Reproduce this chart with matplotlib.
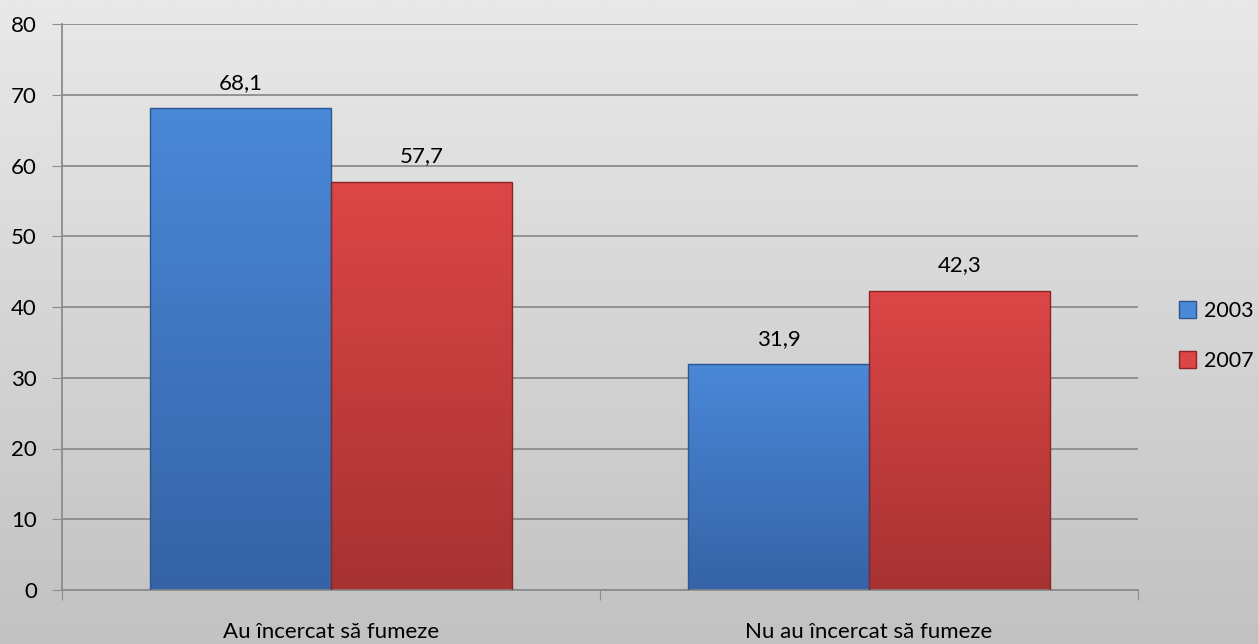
import matplotlib.pyplot as plt
import numpy as np
from matplotlib.patches import Rectangle

plt.rcParams['font.family'] = ['Lato', 'DejaVu Sans']

categories = ['Au încercat să fumeze', 'Nu au încercat să fumeze']
years = ['2003', '2007']
v2003 = [68.1, 31.9]
v2007 = [57.7, 42.3]
labels2003 = ['68,1', '31,9']
labels2007 = ['57,7', '42,3']

fig = plt.figure(figsize=(12.58, 6.44), dpi=100)

# background gradient
bg = fig.add_axes([0, 0, 1, 1], zorder=-10)
grad = np.linspace(0, 1, 256).reshape(-1, 1)
bg.imshow(grad, aspect='auto', cmap=plt.matplotlib.colors.LinearSegmentedColormap.from_list(
    'bg', ['#e9e9e9', '#c2c2c2']), extent=[0, 1, 0, 1])
bg.axis('off')

ax = fig.add_axes([62 / 1258, 54 / 644, (1138 - 62) / 1258, (590 - 24) / 644])
ax.patch.set_visible(False)

x = np.arange(len(categories))
w = 0.336


def grad_bars(xs, vals, top, bottom, edge):
    cmap = plt.matplotlib.colors.LinearSegmentedColormap.from_list('g', [bottom, top])
    bars = ax.bar(xs, vals, width=w, color='none', edgecolor=edge, linewidth=1, zorder=3)
    for b in bars:
        x0 = b.get_x()
        im = ax.imshow(np.linspace(0, 1, 256).reshape(-1, 1), origin='lower', aspect='auto',
                       cmap=cmap, extent=[x0, x0 + b.get_width(), 0, b.get_height()], zorder=2)
        im.set_clip_path(b)
    return bars


b1 = grad_bars(x - w / 2, v2003, '#4a88d8', '#3563a6', '#2d5590')
b2 = grad_bars(x + w / 2, v2007, '#dd4646', '#a73232', '#8a2525')

fs = 16
for i in range(len(x)):
    ax.text(x[i] - w / 2, v2003[i] + 2.2, labels2003[i], ha='center', va='bottom', fontsize=fs)
    ax.text(x[i] + w / 2, v2007[i] + 2.2, labels2007[i], ha='center', va='bottom', fontsize=fs)

ax.set_xlim(-0.5, 1.5)
ax.set_ylim(0, 80)
ax.set_yticks(range(0, 81, 10))
ax.yaxis.grid(True, color='#8c8c8c', linewidth=1.3)
ax.set_axisbelow(True)
ax.set_xticks([-0.5, 0.5, 1.5], minor=False)
ax.set_xticklabels([])
ax.set_xticks(x, minor=True)
ax.set_xticklabels(categories, minor=True)
ax.tick_params(axis='x', which='minor', length=0, pad=23, labelsize=fs)
ax.tick_params(axis='x', which='major', length=7, color='#8c8c8c')
ax.tick_params(axis='y', length=7, color='#8c8c8c', labelsize=fs, pad=11)
for s in ['top', 'right']:
    ax.spines[s].set_visible(False)
for s in ['left', 'bottom']:
    ax.spines[s].set_color('#8c8c8c')
    ax.spines[s].set_linewidth(1.3)

handles = [Rectangle((0, 0), 1, 1, facecolor='#4a88d8', edgecolor='#2d5590'),
           Rectangle((0, 0), 1, 1, facecolor='#dd4646', edgecolor='#8a2525')]
fig.legend(handles, years, loc='center left', bbox_to_anchor=(1179 / 1258, 1 - 336 / 644),
           frameon=False, fontsize=15.5, handlelength=0.8, handleheight=0.8,
           handletextpad=0.35, labelspacing=1.4, borderaxespad=0, borderpad=0)

fig.savefig('out.png', dpi=100)
